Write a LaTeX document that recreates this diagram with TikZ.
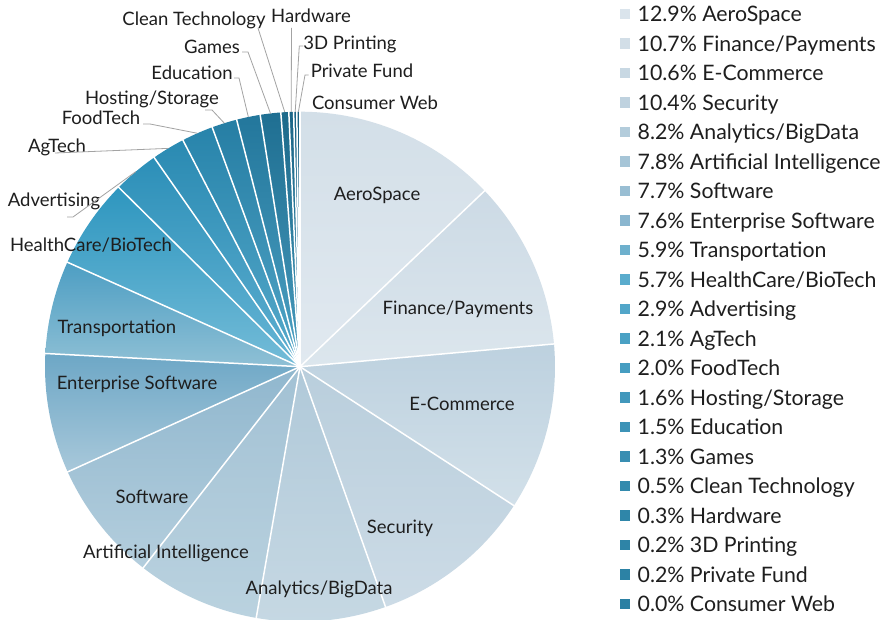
\documentclass[tikz,border=0pt]{standalone}
\usepackage{fontspec}
\setmainfont{Lato}
\usetikzlibrary{calc}
% slice gradient colours (top / bottom)
\definecolor{s1t}{HTML}{D3DFE8}\definecolor{s1b}{HTML}{E1E9F0}
\definecolor{s2t}{HTML}{CCDAE5}\definecolor{s2b}{HTML}{DCE6ED}
\definecolor{s3t}{HTML}{BDD1DF}\definecolor{s3b}{HTML}{D2E0E9}
\definecolor{s4t}{HTML}{B9CEDC}\definecolor{s4b}{HTML}{CCDBE6}
\definecolor{s5t}{HTML}{B0C9D9}\definecolor{s5b}{HTML}{C6D8E3}
\definecolor{s6t}{HTML}{A2C1D4}\definecolor{s6b}{HTML}{BAD2DF}
\definecolor{s7t}{HTML}{90B7CE}\definecolor{s7b}{HTML}{B4CEDD}
\definecolor{s8t}{HTML}{6DA7C6}\definecolor{s8b}{HTML}{A8C8DA}
\definecolor{s9t}{HTML}{4D9EC3}\definecolor{s9b}{HTML}{8FC0D5}
\definecolor{s10t}{HTML}{2E96BF}\definecolor{s10b}{HTML}{74BCD8}
\definecolor{s11t}{HTML}{2C8FB8}\definecolor{s11b}{HTML}{66B5D5}
\definecolor{s12t}{HTML}{2A8AB2}\definecolor{s12b}{HTML}{5DAFD1}
\definecolor{s13t}{HTML}{2884AB}\definecolor{s13b}{HTML}{56AACB}
\definecolor{s14t}{HTML}{267EA4}\definecolor{s14b}{HTML}{51A5C7}
\definecolor{s15t}{HTML}{23779C}\definecolor{s15b}{HTML}{4CA0C2}
\definecolor{s16t}{HTML}{1F6F92}\definecolor{s16b}{HTML}{479ABC}
\definecolor{s17t}{HTML}{1D6A8B}\definecolor{s17b}{HTML}{4496B8}
\definecolor{s18t}{HTML}{1C6687}\definecolor{s18b}{HTML}{4293B5}
\definecolor{s19t}{HTML}{1B6384}\definecolor{s19b}{HTML}{4090B2}
\definecolor{s20t}{HTML}{1A6181}\definecolor{s20b}{HTML}{3E8DB0}
% legend colours
\definecolor{L1}{HTML}{DAE4EC}\definecolor{L2}{HTML}{D2DEE7}\definecolor{L3}{HTML}{C8D8E3}
\definecolor{L4}{HTML}{BFD2DF}\definecolor{L5}{HTML}{B3CCDB}\definecolor{L6}{HTML}{A6C5D7}
\definecolor{L7}{HTML}{99BED3}\definecolor{L8}{HTML}{8AB6CF}\definecolor{L9}{HTML}{6EB0CD}
\definecolor{L10}{HTML}{5AACCD}\definecolor{L11}{HTML}{52A6C9}\definecolor{L12}{HTML}{4AA1C4}
\definecolor{L13}{HTML}{469DC1}\definecolor{L14}{HTML}{4298BC}\definecolor{L15}{HTML}{3D93B7}
\definecolor{L16}{HTML}{398EB2}\definecolor{L17}{HTML}{338AAD}\definecolor{L18}{HTML}{2F86A9}
\definecolor{L19}{HTML}{2E84A7}\definecolor{L20}{HTML}{2C82A5}\definecolor{L21}{HTML}{2B80A3}
\definecolor{txt}{HTML}{1E1E1E}
\definecolor{leadgray}{HTML}{A3A3A3}
\tikzset{
  lbl/.style={font=\fontsize{18.5}{22}\selectfont, text=txt, inner sep=0pt,
              text height=13.3pt, text depth=0pt},
  lgd/.style={font=\fontsize{21.3}{25}\selectfont, text=txt, inner sep=0pt,
              text height=15.2pt, text depth=0pt, anchor=west},
  leader/.style={draw=leadgray, line width=0.8pt},
  sepline/.style={draw=white, line width=1.5pt},
  legsq/.style={minimum size=10.5pt, inner sep=0pt, draw=none},
}
\newcommand\pieslice[4]{%
  \path[top color=#3, bottom color=#4] (C) -- ($(C)+(#1:255)$)
    arc[start angle=#1, end angle=#2, radius=255] -- cycle;}
\newcommand\legitem[3]{%
  \node[legsq, fill=#2] (sq#1) at (625,{605-29.5*(#1-1)}) {};
  \node[lgd] (leg#1) at (637.5,{605-29.5*(#1-1)}) {#3};}
\begin{document}
\begin{tikzpicture}[x=1pt,y=1pt]
\path[fill=white] (0,0) rectangle (881,619);
\useasboundingbox (0,0) rectangle (881,619);
\begin{scope}
\clip (0,0) rectangle (881,619);
\coordinate (C) at (300,252.3);
% slices
\pieslice{90}{43.61}{s1t}{s1b}
\pieslice{43.61}{5.12}{s2t}{s2b}
\pieslice{5.12}{-33.00}{s3t}{s3b}
\pieslice{-33.00}{-70.40}{s4t}{s4b}
\pieslice{-70.40}{-99.89}{s5t}{s5b}
\pieslice{-99.89}{-127.94}{s6t}{s6b}
\pieslice{-127.94}{-155.64}{s7t}{s7b}
\pieslice{-155.64}{-182.97}{s8t}{s8b}
\pieslice{-182.97}{-204.19}{s9t}{s9b}
\pieslice{-204.19}{-224.69}{s10t}{s10b}
\pieslice{-224.69}{-235.11}{s11t}{s11b}
\pieslice{-235.11}{-242.67}{s12t}{s12b}
\pieslice{-242.67}{-249.86}{s13t}{s13b}
\pieslice{-249.86}{-255.61}{s14t}{s14b}
\pieslice{-255.61}{-261.01}{s15t}{s15b}
\pieslice{-261.01}{-265.68}{s16t}{s16b}
\pieslice{-265.68}{-267.48}{s17t}{s17b}
\pieslice{-267.48}{-268.56}{s18t}{s18b}
\pieslice{-268.56}{-269.28}{s19t}{s19b}
\pieslice{-269.28}{-270}{s20t}{s20b}
% separators
\foreach \a in {90,43.61,5.12,-33.00,-70.40,-99.89,-127.94,-155.64,-182.97,-204.19,-224.69,-235.11,-242.67,-249.86,-255.61,-261.01,-265.68,-267.48,-268.56,-269.28}
  \draw[sepline] (C) -- ($(C)+(\a:256)$);
% inner labels
\node[lbl] (tAero) at (377,425) {AeroSpace};
\node[lbl] (tFin) at (458,311) {Finance/Payments};
\node[lbl] (tEcom) at (462,215) {E-Commerce};
\node[lbl] (tSec) at (400,92) {Security};
\node[lbl] (tAna) at (319,31) {Analytics/BigData};
\node[lbl] (tAI) at (166,67) {Artificial Intelligence};
\node[lbl] (tSoft) at (152,122) {Software};
\node[lbl] (tEnt) at (137,236) {Enterprise Software};
\node[lbl] (tTrans) at (117,292) {Transportation};
\node[lbl] (tHealth) at (91,374) {HealthCare/BioTech};
% outer labels
\node[lbl] (tAdv) at (54,419) {Advertising};
\node[lbl] (tAg) at (57,473) {AgTech};
\node[lbl] (tFood) at (101,501) {FoodTech};
\node[lbl] (tHost) at (152,521) {Hosting/Storage};
\node[lbl] (tEdu) at (192,546) {Education};
\node[lbl] (tGames) at (212,572) {Games};
\node[lbl] (tClean) at (194,600) {Clean Technology};
\node[lbl] (tHard) at (311,603) {Hardware};
\node[lbl] (t3D) at (350,576) {3D Printing};
\node[lbl] (tPriv) at (362,548) {Private Fund};
\node[lbl] (tCons) at (375,516) {Consumer Web};
% leader points
\coordinate (eAdv) at ($(C)+(-229.90:255)$);
\coordinate (eAg) at ($(C)+(-238.89:255)$);
\coordinate (eFood) at ($(C)+(-246.27:255)$);
\coordinate (eHost) at ($(C)+(-252.74:255)$);
\coordinate (eEdu) at ($(C)+(-258.31:255)$);
\coordinate (eGames) at ($(C)+(-263.35:255)$);
\coordinate (eClean) at ($(C)+(-266.58:255)$);
\coordinate (eHard) at ($(C)+(-268.02:255)$);
\coordinate (e3D) at ($(C)+(-268.92:255)$);
\coordinate (ePriv) at ($(C)+(-269.64:255)$);
\coordinate (kAdv) at (73,402);   \coordinate (fAdv) at (67,402);
\coordinate (fAg) at (55,466);
\coordinate (kFood) at (150,495); \coordinate (fFood) at (143,495);
\coordinate (kHost) at (212,509); \coordinate (fHost) at (205,509);
\coordinate (kEdu) at (239,541);  \coordinate (fEdu) at (234,541);
\coordinate (kGames) at (248,567);\coordinate (fGames) at (242,567);
\coordinate (fClean) at (258,591);
\coordinate (fHard) at (291.5,591);
\coordinate (k3D) at (299.3,573); \coordinate (f3D) at (303.3,573);
\coordinate (kPriv) at (305,544); \coordinate (fPriv) at (308.5,544);
\draw[leader] (eAdv) -- (kAdv) -- (fAdv);
\draw[leader] (eAg) -- (fAg);
\draw[leader] (eFood) -- (kFood) -- (fFood);
\draw[leader] (eHost) -- (kHost) -- (fHost);
\draw[leader] (eEdu) -- (kEdu) -- (fEdu);
\draw[leader] (eGames) -- (kGames) -- (fGames);
\draw[leader] (eClean) -- (fClean);
\draw[leader] (eHard) -- (fHard);
\draw[leader] (e3D) -- (k3D) -- (f3D);
\draw[leader] (ePriv) -- (kPriv) -- (fPriv);
% legend
\legitem{1}{L1}{12.9\% AeroSpace}
\legitem{2}{L2}{10.7\% Finance/Payments}
\legitem{3}{L3}{10.6\% E-Commerce}
\legitem{4}{L4}{10.4\% Security}
\legitem{5}{L5}{8.2\% Analytics/BigData}
\legitem{6}{L6}{7.8\% Artificial Intelligence}
\legitem{7}{L7}{7.7\% Software}
\legitem{8}{L8}{7.6\% Enterprise Software}
\legitem{9}{L9}{5.9\% Transportation}
\legitem{10}{L10}{5.7\% HealthCare/BioTech}
\legitem{11}{L11}{2.9\% Advertising}
\legitem{12}{L12}{2.1\% AgTech}
\legitem{13}{L13}{2.0\% FoodTech}
\legitem{14}{L14}{1.6\% Hosting/Storage}
\legitem{15}{L15}{1.5\% Education}
\legitem{16}{L16}{1.3\% Games}
\legitem{17}{L17}{0.5\% Clean Technology}
\legitem{18}{L18}{0.3\% Hardware}
\legitem{19}{L19}{0.2\% 3D Printing}
\legitem{20}{L20}{0.2\% Private Fund}
\legitem{21}{L21}{0.0\% Consumer Web}
\end{scope}
\end{tikzpicture}
\end{document}
